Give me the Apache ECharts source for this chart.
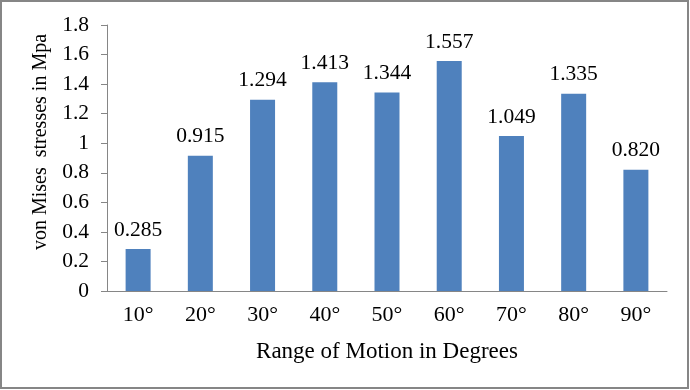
<!DOCTYPE html>
<html><head><meta charset="utf-8">
<script src="https://cdn.jsdelivr.net/npm/echarts@6/dist/echarts.min.js"></script>
<style>html,body{margin:0;padding:0;background:#fff}#c{width:690px;height:390px}</style>
</head><body><div id="c"></div>
<script>
const categories = ['10°','20°','30°','40°','50°','60°','70°','80°','90°'];
const stresses = [0.285, 0.915, 1.294, 1.413, 1.344, 1.557, 1.049, 1.335, 0.820];
const yTicks = {min: 0, max: 1.8, interval: 0.2};
const font = '"Liberation Serif", "Times New Roman", serif';
const chart = echarts.init(document.getElementById('c'));
chart.setOption({
  animation: false,
  backgroundColor: '#fff',
  graphic: [{type:'rect', shape:{x:1,y:1,width:687,height:387}, style:{fill:'none', stroke:'#868686', lineWidth:2}}],
  grid: {left: 107, right: 23, top: 25, bottom: 99},
  xAxis: {
    type: 'category', data: categories,
    name: 'Range of Motion in Degrees', nameLocation: 'middle', nameGap: 49,
    nameTextStyle: {fontFamily: font, fontSize: 23, color: '#000'},
    axisLine: {lineStyle: {color: '#868686'}},
    axisTick: {length: 6, lineStyle: {color: '#868686'}},
    axisLabel: {fontFamily: font, fontSize: 22, color: '#000', margin: 13}
  },
  yAxis: {
    type: 'value', min: yTicks.min, max: yTicks.max, interval: yTicks.interval,
    name: 'von Mises  stresses in Mpa', nameLocation: 'middle', nameGap: 55,
    nameTextStyle: {fontFamily: font, fontSize: 20, color: '#000', padding: [0, 0, 0, 32]},
    axisLine: {show: true, lineStyle: {color: '#868686'}},
    axisTick: {show: true, length: 6, lineStyle: {color: '#868686'}},
    splitLine: {show: false},
    axisLabel: {fontFamily: font, fontSize: 21.5, color: '#000', margin: 18,
      formatter: v => String(Math.round(v*10)/10)}
  },
  series: [{
    type: 'bar', data: stresses, barWidth: 25,
    itemStyle: {color: '#4F81BD'},
    label: {show: true, position: 'top', distance: 8, fontFamily: font, fontSize: 21.5, color: '#000',
      formatter: p => p.value.toFixed(3)}
  }]
});
</script></body></html>
